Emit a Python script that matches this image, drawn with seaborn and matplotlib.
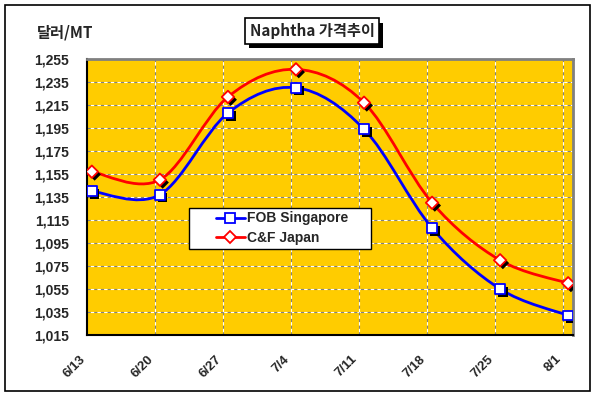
import matplotlib
matplotlib.use('Agg')
import matplotlib.pyplot as plt
import matplotlib.patheffects as pe
import matplotlib.transforms as mtransforms
from matplotlib.legend_handler import HandlerLine2D
from matplotlib.lines import Line2D
from matplotlib.patches import PathPatch, Rectangle
from matplotlib.path import Path
import numpy as np
import pandas as pd
import seaborn as sns

# weekly naphtha quotes, $/MT
week_labels = ['6/13', '6/20', '6/27', '7/4', '7/11', '7/18', '7/25', '8/1']
week_days = [0, 7, 14, 21, 28, 35, 42, 49]  # days since 6/13
fob_singapore = [1140, 1137, 1208, 1230, 1194, 1108, 1055, 1032]
cf_japan = [1157, 1150, 1222, 1246, 1217, 1130, 1080, 1060]
series_names = ['FOB Singapore', 'C&F Japan']
y_ticks = list(range(1015, 1256, 20))

sns.set_style("white")
plt.rcParams['font.family'] = ['Liberation Sans', 'DejaVu Sans']
plt.rcParams['font.weight'] = 'bold'

GOLD = '#FFCC00'
KR_FONT = ['Noto Sans CJK KR', 'DejaVu Sans']


def smooth_path(xs, ys):
    # excel-style smoothed line: cubic bezier through every point
    pts = np.column_stack([xs, ys]).astype(float)
    n = len(pts)
    verts = [pts[0]]
    codes = [Path.MOVETO]
    for i in range(n - 1):
        p0 = pts[max(i - 1, 0)]
        p1 = pts[i]
        p2 = pts[i + 1]
        p3 = pts[min(i + 2, n - 1)]
        verts += [p1 + (p2 - p0) / 6, p2 - (p3 - p1) / 6, p2]
        codes += [Path.CURVE4] * 3
    return Path(verts, codes)


df = pd.DataFrame({
    'day': np.array(week_days) + 0.5,  # quotes sit half a day past the tick
    series_names[0]: fob_singapore,
    series_names[1]: cf_japan,
})

fig = plt.figure(figsize=(5.95, 3.96), dpi=100)
ax = fig.add_axes([87 / 595, 61 / 396, 486 / 595, 276 / 396])
ax.set_facecolor(GOLD)

ax.set_xlim(0, 50)
ax.set_ylim(y_ticks[0], y_ticks[-1])
ax.set_yticks(y_ticks)
ax.set_yticklabels([f'{v:,}' for v in y_ticks], fontsize=10, fontweight='bold')
ax.set_xticks(week_days)
ax.set_xticklabels(week_labels, fontsize=9.5, fontweight='bold', rotation=45,
                   ha='right', va='top', rotation_mode='anchor')
ax.tick_params(axis='y', length=0, pad=13)
ax.tick_params(axis='x', length=3, width=1, direction='out', pad=10, color='black')
shift = mtransforms.ScaledTranslation(-8 / 100, 0, fig.dpi_scale_trans)
for lbl in ax.get_xticklabels():
    lbl.set_transform(lbl.get_transform() + shift)

# two-tone dashed grid
for y in y_ticks[1:-1]:
    ax.axhline(y, color='#808080', lw=0.8, linestyle=(0, (3, 3)), zorder=1)
    ax.axhline(y, color='white', lw=0.8, linestyle=(3, (3, 3)), zorder=1)
for x in week_days[1:]:
    ax.axvline(x, color='#808080', lw=0.8, linestyle=(0, (3, 3)), zorder=1)
    ax.axvline(x, color='white', lw=0.8, linestyle=(3, (3, 3)), zorder=1)

styles = [('blue', 's'), ('red', 'D')]
shadow = [pe.SimplePatchShadow(offset=(2, -2), shadow_rgbFace='black', alpha=1), pe.Normal()]
for name, (col, mk) in zip(series_names, styles):
    ax.add_patch(PathPatch(smooth_path(df['day'], df[name]), fill=False,
                           edgecolor=col, lw=2, zorder=3))
    sns.scatterplot(data=df, x='day', y=name, marker=mk, s=48 if mk == 's' else 40,
                    color='white', edgecolor=col, linewidth=1.3, ax=ax, zorder=4)
    ax.collections[-1].set_path_effects(shadow)

ax.set_xlabel('')
ax.set_ylabel('')

for side in ['left', 'bottom']:
    ax.spines[side].set_color('black')
    ax.spines[side].set_linewidth(1.5)
for side in ['top', 'right']:
    ax.spines[side].set_color('#808080')
    ax.spines[side].set_linewidth(2)

handles = [Line2D([], [], color=col, marker=mk, mfc='white', mec=col, ms=6.5 if mk == 's' else 6,
                  lw=2, mew=1.3) for col, mk in styles]
leg = ax.legend(handles, series_names, loc='upper left',
                bbox_to_anchor=(102 / 486, 127 / 276, 182 / 486, 0), mode='expand',
                borderaxespad=0, fancybox=False, edgecolor='black', framealpha=1,
                handlelength=3.75, handletextpad=0.15, borderpad=0.25, labelspacing=0.42,
                handler_map={Line2D: HandlerLine2D(xpad=1.7)},
                prop={'size': 10, 'weight': 'bold'})
leg.get_frame().set_linewidth(1)

# axis unit label
fig.text(37 / 595, 1 - 33 / 396, '달러/MT', fontsize=11, fontweight='bold',
         family=KR_FONT, ha='left', va='center')

# title box with drop shadow
title = fig.text(312 / 595, 1 - 31 / 396, 'Naphtha 가격추이', fontsize=11, fontweight='bold',
                 family=KR_FONT, ha='center', va='center',
                 bbox=dict(boxstyle='square,pad=0.3', fc='white', ec='black', lw=1.2))
title.get_bbox_patch().set_path_effects(
    [pe.SimplePatchShadow(offset=(3, -3), shadow_rgbFace='black', alpha=1), pe.Normal()])

# outer chart border
fig.patches.append(Rectangle((5 / 595, 5 / 396), 585 / 595, 386 / 396, transform=fig.transFigure,
                             fill=False, edgecolor='black', lw=1.2))

fig.savefig('out.png', dpi=100)
